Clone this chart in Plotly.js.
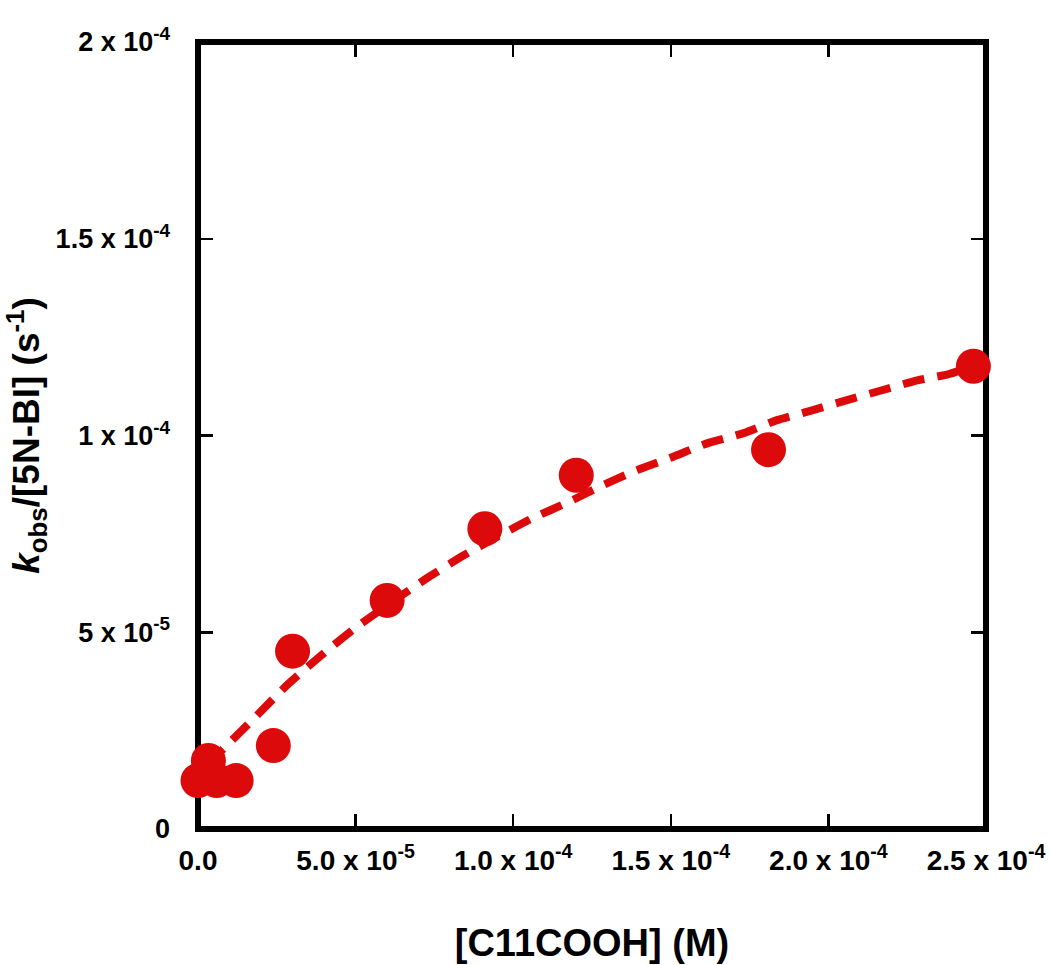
<!DOCTYPE html>
<html>
<head>
<meta charset="utf-8">
<script src="https://cdn.plot.ly/plotly-3.0.1.min.js"></script>
<style>html,body{margin:0;padding:0;background:#fff;}#chart{width:1050px;height:965px;}</style>
</head>
<body>
<div id="chart"></div>
<script>
// Measured data points
var concX = [0, 3.3e-6, 5.9e-6, 1.21e-5, 2.39e-5, 3.0e-5, 6.0e-5, 9.1e-5, 1.2e-4, 1.81e-4, 2.46e-4];
var kobsY = [1.23e-5, 1.74e-5, 1.23e-5, 1.23e-5, 2.12e-5, 4.52e-5, 5.81e-5, 7.63e-5, 8.99e-5, 9.64e-5, 1.176e-4];

// Fit curve
var fitX = [3.0e-6, 9.1e-6, 1.76e-5, 2.87e-5, 3.98e-5, 5.09e-5, 7.31e-5, 8.42e-5, 9.48e-5, 1.059e-4, 1.176e-4, 1.282e-4, 1.393e-4, 1.504e-4, 1.615e-4, 1.731e-4, 1.837e-4, 1.948e-4, 2.059e-4, 2.170e-4, 2.282e-4, 2.382e-4, 2.457e-4];
var fitY = [1.64e-5, 2.12e-5, 2.80e-5, 3.69e-5, 4.46e-5, 5.17e-5, 6.40e-5, 6.95e-5, 7.42e-5, 7.89e-5, 8.31e-5, 8.73e-5, 9.12e-5, 9.45e-5, 9.80e-5, 1.006e-4, 1.039e-4, 1.064e-4, 1.090e-4, 1.115e-4, 1.140e-4, 1.156e-4, 1.176e-4];

// Tick labels
var xTickVals = [0, 5e-5, 1e-4, 1.5e-4, 2e-4, 2.5e-4];
var xTickText = ['0.0', '5.0 x 10<sup>-5</sup>', '1.0 x 10<sup>-4</sup>', '1.5 x 10<sup>-4</sup>', '2.0 x 10<sup>-4</sup>', '2.5 x 10<sup>-4</sup>'];
var yTickVals = [0, 5e-5, 1e-4, 1.5e-4, 2e-4];
var yTickText = ['0', '5 x 10<sup>-5</sup>', '1 x 10<sup>-4</sup>', '1.5 x 10<sup>-4</sup>', '2 x 10<sup>-4</sup>'];

var red = '#dc0a0a';
var fontFam = 'Liberation Sans, Arial, sans-serif';

var traces = [
  {
    x: fitX, y: fitY, type: 'scatter', mode: 'lines',
    line: {color: red, width: 8, dash: '22px,13px', shape: 'spline', smoothing: 0.6},
    hoverinfo: 'skip', cliponaxis: false
  },
  {
    x: concX, y: kobsY, type: 'scatter', mode: 'markers',
    marker: {color: red, size: 35, line: {width: 0}},
    cliponaxis: false
  }
];

var layout = {
  width: 1050, height: 965,
  paper_bgcolor: '#fff', plot_bgcolor: '#fff',
  margin: {l: 198, r: 64, t: 42, b: 136},
  showlegend: false,
  xaxis: {
    showgrid: false, zeroline: false, showline: false,
    ticks: 'inside', ticklen: 15, tickwidth: 2.5, tickcolor: '#000', mirror: 'ticks',
    range: [0, 2.5e-4], tickmode: 'array', tickvals: xTickVals, ticktext: xTickText,
    tickangle: 0, automargin: false,
    tickfont: {family: fontFam, size: 28, color: '#000', weight: 'bold'},
    ticklabelstandoff: 12,
    title: {text: '[C11COOH] (M)', font: {family: fontFam, size: 38, color: '#000', weight: 'bold'}, standoff: 54}
  },
  yaxis: {
    showgrid: false, zeroline: false, showline: false,
    ticks: 'inside', ticklen: 15, tickwidth: 2.5, tickcolor: '#000', mirror: 'ticks',
    range: [0, 2e-4], tickmode: 'array', tickvals: yTickVals, ticktext: yTickText,
    automargin: false,
    tickfont: {family: fontFam, size: 27, color: '#000', weight: 'bold'},
    ticklabelstandoff: 27,
    title: {text: '<i>k</i><sub>obs</sub>/[5N-BI] (s<sup>-1</sup>)', font: {family: fontFam, size: 37, color: '#000', weight: 'bold'}, standoff: 4}
  },
  shapes: [{
    type: 'rect', xref: 'paper', yref: 'paper', x0: 0, x1: 1, y0: 0, y1: 1,
    line: {color: '#000', width: 6}, layer: 'below'
  }]
};

Plotly.newPlot('chart', traces, layout, {displayModeBar: false, staticPlot: true});
</script>
</body>
</html>
